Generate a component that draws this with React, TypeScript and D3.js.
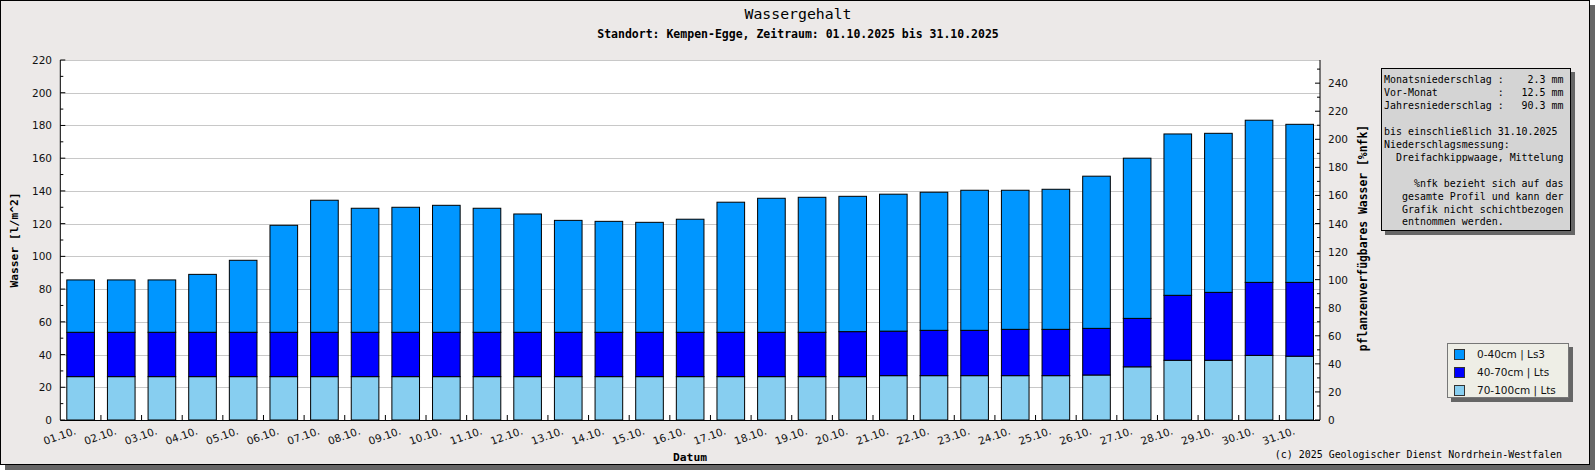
import React from "react";
import * as d3 from "d3";

const days = [
  "01.10.", "02.10.", "03.10.", "04.10.", "05.10.", "06.10.", "07.10.", "08.10.",
  "09.10.", "10.10.", "11.10.", "12.10.", "13.10.", "14.10.", "15.10.", "16.10.",
  "17.10.", "18.10.", "19.10.", "20.10.", "21.10.", "22.10.", "23.10.", "24.10.",
  "25.10.", "26.10.", "27.10.", "28.10.", "29.10.", "30.10.", "31.10.",
];

// layer thicknesses in l/m^2 (stacked bottom to top: 70-100, 40-70, 0-40)
const layer70_100 = [
  26.5, 26.5, 26.5, 26.5, 26.5, 26.5, 26.5, 26.5, 26.5, 26.5, 26.5, 26.5, 26.5, 26.5, 26.5, 26.5,
  26.5, 26.5, 26.5, 26.5, 27.1, 27.1, 27.1, 27.1, 27.1, 27.5, 32.5, 36.5, 36.5, 39.5, 39.0,
];
const layer40_70 = [
  27.1, 27.1, 27.1, 27.1, 27.1, 27.1, 27.1, 27.1, 27.1, 27.1, 27.1, 27.1, 27.1, 27.1, 27.1, 27.1,
  27.1, 27.1, 27.1, 27.5, 27.2, 27.7, 27.7, 28.3, 28.3, 28.5, 29.6, 39.7, 41.5, 44.6, 45.1,
];
const layer0_40 = [
  32.0, 32.0, 32.0, 35.4, 44.0, 65.4, 80.7, 75.8, 76.4, 77.6, 75.8, 72.3, 68.4, 67.8, 67.2, 69.1,
  79.5, 81.9, 82.5, 82.7, 83.7, 84.4, 85.6, 85.0, 85.6, 93.0, 97.9, 98.6, 97.2, 99.1, 96.6,
];

const seriesKeys = ["l70", "l40", "l0"];
const seriesLabels = ["70-100cm | Lts", "40-70cm | Lts", "0-40cm | Ls3"];
const seriesColors = ["#87cef0", "#0000ff", "#0096ff"];

const leftTicks = [0, 20, 40, 60, 80, 100, 120, 140, 160, 180, 200, 220];
const leftMinor = [10, 30, 50, 70, 90, 110, 130, 150, 170, 190, 210];
const rightTicks = [0, 20, 40, 60, 80, 100, 120, 140, 160, 180, 200, 220, 240];
const rightMinor = [10, 30, 50, 70, 90, 110, 130, 150, 170, 190, 210, 230, 250];

const infoLines = [
  "Monatsniederschlag :    2.3 mm",
  "Vor-Monat          :   12.5 mm",
  "Jahresniederschlag :   90.3 mm",
  "",
  "bis einschließlich 31.10.2025",
  "Niederschlagsmessung:",
  "  Dreifachkippwaage, Mittelung",
  "",
  "     %nfk bezieht sich auf das",
  "   gesamte Profil und kann der",
  "   Grafik nicht schichtbezogen",
  "   entnommen werden.",
];

const W = 1595;
const H = 470;
const PL = 60.3, PR = 1320, PT = 60, PB = 420;
const MONO = "'DejaVu Sans Mono', 'Liberation Mono', monospace";
const SANS = "'DejaVu Sans', Verdana, sans-serif";

export default function App() {
  const rows = days.map((d, i) => ({
    day: d,
    l70: layer70_100[i],
    l40: layer40_70[i],
    l0: layer0_40[i],
  }));
  const stack = d3.stack<any>().keys(seriesKeys)(rows);

  const x = d3.scaleBand<string>().domain(days).range([PL, PR]).padding(0);
  const bw = x.bandwidth();
  const barW = bw * 0.68;
  const y = d3.scaleLinear().domain([0, 220]).range([PB, PT]);
  const yR = d3.scaleLinear().domain([0, 256.5]).range([PB, PT]);

  return (
    <svg
      width={W}
      height={H}
      style={{ position: "absolute", left: 0, top: 0, display: "block" }}
      xmlns="http://www.w3.org/2000/svg"
    >
      <rect x={0} y={0} width={W} height={H} fill="#ffffff" />
      {/* frame shadow + frame */}
      <rect x={5} y={5} width={1590} height={465} fill="#666666" />
      <rect x={0.5} y={0.5} width={1589} height={464} fill="#ece9e8" stroke="#000" strokeWidth={1} />

      {/* titles */}
      <text x={798} y={18.5} textAnchor="middle" fontFamily={MONO} fontSize={14.8} fill="#000">
        Wassergehalt
      </text>
      <text x={798} y={37.5} textAnchor="middle" fontFamily={MONO} fontWeight="bold" fontSize={11.5} fill="#000">
        Standort: Kempen-Egge, Zeitraum: 01.10.2025 bis 31.10.2025
      </text>

      {/* plot area */}
      <rect x={PL} y={PT} width={PR - PL} height={PB - PT} fill="#ffffff" />
      {leftTicks.map((t) => (
        <line key={"g" + t} x1={PL} x2={PR} y1={Math.round(y(t)) + 0.5} y2={Math.round(y(t)) + 0.5} stroke="#c8c8c8" strokeWidth={1} />
      ))}

      {/* bars */}
      {stack.map((s, si) => (
        <g key={s.key} fill={seriesColors[si]} stroke="#000" strokeWidth={1}>
          {s.map((d: any, i: number) => {
            const x0 = (x(days[i]) as number) + (bw - barW) / 2;
            return (
              <rect
                key={i}
                x={x0}
                y={y(d[1])}
                width={barW}
                height={y(d[0]) - y(d[1])}
              />
            );
          })}
        </g>
      ))}

      {/* axes lines */}
      <line x1={PL} x2={PL} y1={PT} y2={PB} stroke="#000" />
      <line x1={PR} x2={PR} y1={PT} y2={PB} stroke="#000" />
      <line x1={PL} x2={PR} y1={PB + 0.5} y2={PB + 0.5} stroke="#000" />

      {/* left ticks */}
      {leftTicks.map((t) => (
        <g key={"lt" + t}>
          <line x1={PL} x2={PL + 5} y1={y(t)} y2={y(t)} stroke="#000" />
          <text x={52} y={y(t) + 4} textAnchor="end" fontFamily={SANS} fontSize={10.5} fill="#111">
            {t}
          </text>
        </g>
      ))}
      {leftMinor.map((t) => (
        <line key={"lm" + t} x1={PL} x2={PL + 3} y1={y(t)} y2={y(t)} stroke="#000" />
      ))}

      {/* right ticks */}
      {rightTicks.map((t) => (
        <g key={"rt" + t}>
          <line x1={PR - 5} x2={PR} y1={yR(t)} y2={yR(t)} stroke="#000" />
          <text x={1328} y={yR(t) + 4} textAnchor="start" fontFamily={SANS} fontSize={10.5} fill="#111">
            {t}
          </text>
        </g>
      ))}
      {rightMinor.map((t) => (
        <line key={"rm" + t} x1={PR - 3} x2={PR} y1={yR(t)} y2={yR(t)} stroke="#000" />
      ))}

      {/* x ticks and labels */}
      {days.slice(1).map((d) => (
        <line key={"xt" + d} x1={x(d)} x2={x(d)} y1={PB} y2={PB - 5} stroke="#000" />
      ))}
      {days.map((d) => {
        const cx = (x(d) as number) + bw / 2 - 4;
        const cy = 434;
        return (
          <text
            key={"xl" + d}
            x={cx}
            y={cy}
            textAnchor="end"
            transform={`rotate(-19, ${cx}, ${cy})`}
            fontFamily={SANS}
            fontSize={10.5}
            fill="#111"
          >
            {d}
          </text>
        );
      })}

      {/* axis titles */}
      <text x={690} y={461} textAnchor="middle" fontFamily={MONO} fontWeight="bold" fontSize={11.3} fill="#000">
        Datum
      </text>
      <text
        x={14}
        y={240}
        textAnchor="middle"
        dominantBaseline="central"
        transform="rotate(-90, 14, 240)"
        fontFamily={MONO}
        fontWeight="bold"
        fontSize={11.3}
        fill="#000"
      >
        Wasser [l/m^2]
      </text>
      <text
        x={1363}
        y={238}
        textAnchor="middle"
        dominantBaseline="central"
        transform="rotate(-90, 1363, 238)"
        fontFamily={MONO}
        fontWeight="bold"
        fontSize={11.4}
        fill="#000"
      >
        pflanzenverfügbares Wasser [%nfk]
      </text>

      {/* info box */}
      <rect x={1385} y={72} width={190} height={163} fill="#666666" />
      <rect x={1381.5} y={68.5} width={189} height={162} fill="#d4d4d4" stroke="#000" />
      {infoLines.map((l, i) => (
        <text
          key={"info" + i}
          x={1384}
          y={83 + i * 12.95}
          fontFamily={MONO}
          fontSize={9.95}
          fill="#000"
          style={{ whiteSpace: "pre" }}
          xmlSpace="preserve"
        >
          {l}
        </text>
      ))}

      {/* legend */}
      <rect x={1451} y={347} width={122} height={55} fill="#666666" />
      <rect x={1447.5} y={343.5} width={121} height={54} fill="#eeeee6" stroke="#777" />
      {[2, 1, 0].map((si, k) => (
        <g key={"lg" + si}>
          <rect x={1454.5} y={349.5 + k * 18} width={10} height={10} fill={seriesColors[si]} stroke="#333" />
          <text x={1477} y={358 + k * 18} fontFamily={SANS} fontSize={10.5} fill="#111">
            {seriesLabels[si]}
          </text>
        </g>
      ))}

      {/* copyright */}
      <text x={1562} y={458} textAnchor="end" fontFamily={MONO} fontSize={9.95} fill="#000">
        (c) 2025 Geologischer Dienst Nordrhein-Westfalen
      </text>
    </svg>
  );
}
